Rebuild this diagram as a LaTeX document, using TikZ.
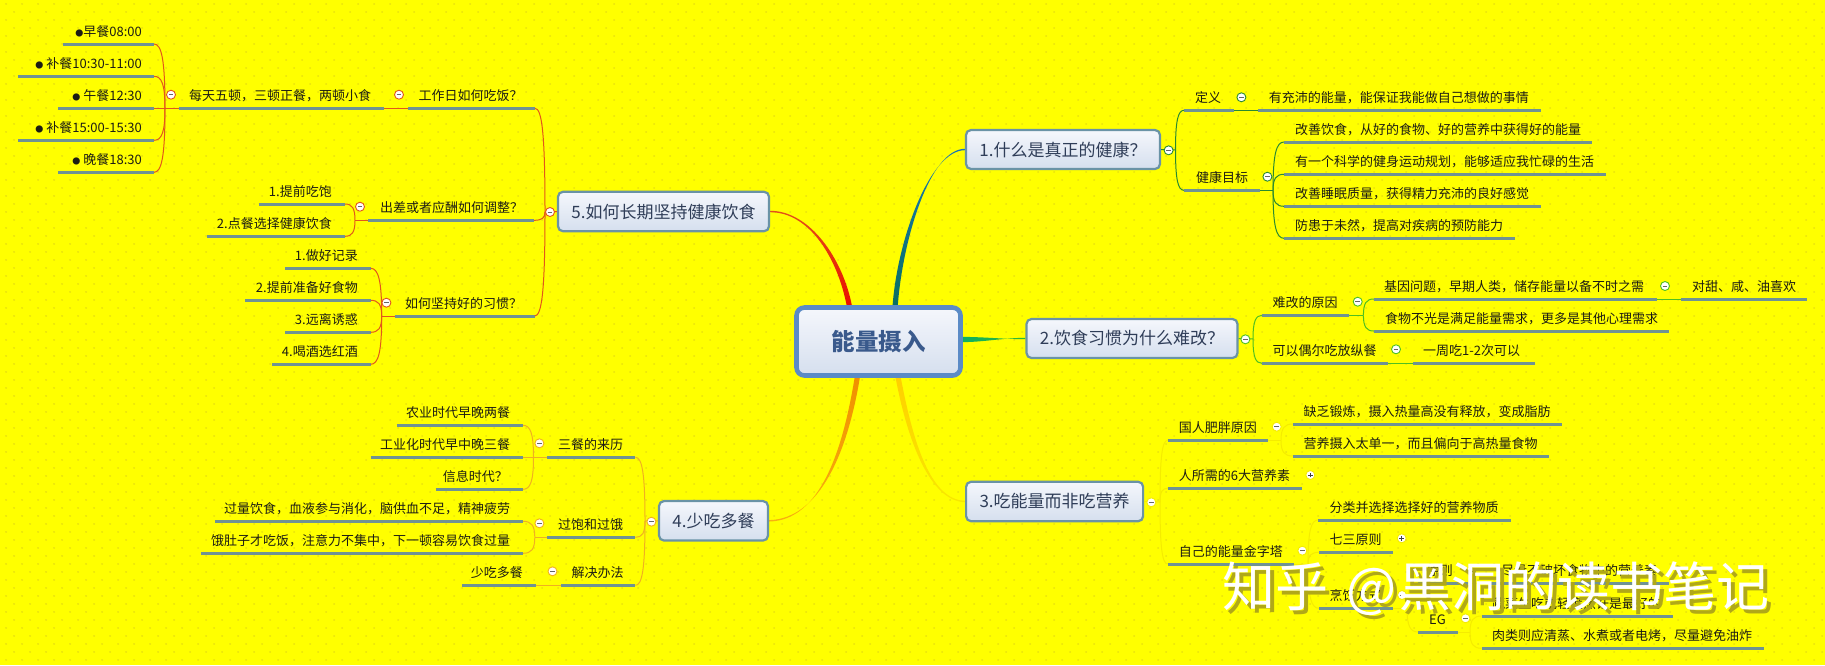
\documentclass[tikz,border=0pt]{standalone}
\usepackage{fontspec}
\setmainfont{Noto Sans CJK SC}
\usetikzlibrary{calc,backgrounds}
\definecolor{bgy}{HTML}{FFFF00}
\definecolor{doty}{HTML}{E9E20E}
\definecolor{ulinec}{HTML}{6F9393}
\definecolor{leafc}{HTML}{1C1C14}
\definecolor{boxc}{HTML}{6A93A6}
\definecolor{boxtext}{HTML}{2F3D58}
\definecolor{boxtop}{HTML}{F5F7FC}
\definecolor{boxbot}{HTML}{D5DFEE}
\definecolor{rootb}{HTML}{5B8BC6}
\definecolor{roottext}{HTML}{3A5A8C}
\definecolor{gfive}{HTML}{E2571A}
\definecolor{gfour}{HTML}{F0B020}
\definecolor{gone}{HTML}{2A8A30}
\definecolor{gtwo}{HTML}{4FC020}
\definecolor{gthree}{HTML}{F5EC00}
\definecolor{tfivea}{HTML}{E2501A}
\definecolor{tfiveb}{HTML}{EA1000}
\definecolor{tonea}{HTML}{1A75B5}
\definecolor{toneb}{HTML}{0A7060}
\definecolor{ttwoa}{HTML}{10B060}
\definecolor{ttwob}{HTML}{30B830}
\definecolor{tthreea}{HTML}{FFD000}
\definecolor{tthreeb}{HTML}{F8E800}
\definecolor{tfoura}{HTML}{F09000}
\definecolor{tfourb}{HTML}{F8B010}
\definecolor{wmshade}{HTML}{B0A818}
\tikzset{
  x=1pt,y=-1pt,
  lbl/.style={inner sep=0pt,font=\fontsize{13}{15}\selectfont,text=leafc},
  uline/.style={line width=3pt,draw=ulinec},
  conn/.style={line width=1pt,draw=#1},
  collm/.style={circle,draw=#1,line width=.9pt,fill=white,minimum size=9pt,inner sep=0pt,
    path picture={\draw[line width=.9pt,black!60] ([xshift=-2.3pt]path picture bounding box.center)--([xshift=2.3pt]path picture bounding box.center);}},
  collp/.style={circle,draw=#1,line width=.9pt,fill=white,minimum size=9pt,inner sep=0pt,
    path picture={\draw[line width=.9pt,black!75] ([xshift=-2.3pt]path picture bounding box.center)--([xshift=2.3pt]path picture bounding box.center);
    \draw[line width=.9pt,black!75] ([yshift=-2.3pt]path picture bounding box.center)--([yshift=2.3pt]path picture bounding box.center);}},
  boxnode/.style={draw=boxc,line width=2.2pt,rounded corners=5pt,top color=boxtop,bottom color=boxbot,
    inner sep=0pt,text=boxtext,font=\fontsize{17}{20}\selectfont},
  rootnode/.style={draw=rootb,line width=4.6pt,rounded corners=8pt,top color=boxtop,bottom color=boxbot,
    inner sep=0pt,text=roottext,font=\fontsize{23.5}{28}\selectfont\bfseries},
  wmark/.style={inner sep=0pt,anchor=base west,font=\fontsize{53}{60}\selectfont},
}
\newcommand{\smbul}{{\fontsize{8}{8}\selectfont ●}}
\newcommand{\wmstr}{知乎\hspace{18pt}@\hspace{2pt}黑洞的读书笔记}
\newcommand{\mmtopic}[7]{%
  \coordinate (#1-l) at (#2,#4);
  \coordinate (#1-r) at (#3,#4);
  \node[lbl,anchor=base #5,yshift=8pt] (#1) at (#6,#4) {#7};
  \draw[uline] (#1-l) -- (#1-r);
}
\newcommand{\bracketline}[3]{%
  \draw[conn=#1] (#2) .. controls ($(#2)!.75!(#2 |- #3)$) and ($(#3)!.7!(#2 |- #3)$) .. (#3);
}
\newcommand{\taperline}[6]{%
  \shade[#1] ($(#2)+(#4)$) .. controls +(#5) and +(#6) .. ($(#3)+(0,-.7)$) -- ($(#3)+(0,.7)$) .. controls +(#6) and +(#5) .. ($(#2)-(#4)$) -- cycle;
}
\begin{document}
\begin{tikzpicture}
\useasboundingbox (0,0) rectangle (1825,665);
% central and main boxes
\node[rootnode,minimum width=164pt,minimum height=68pt] (root) at (878.5,341.5) {能量摄入};
\node[boxnode,minimum width=211pt,minimum height=39.5pt] (b5) at (663.5,211.5) {5.如何长期坚持健康饮食};
\node[boxnode,minimum width=109pt,minimum height=39.5pt] (b4) at (713.5,520.8) {4.少吃多餐};
\node[boxnode,minimum width=194pt,minimum height=39pt] (b1) at (1063,149.5) {1.什么是真正的健康？};
\node[boxnode,minimum width=211pt,minimum height=39pt] (b2) at (1132,338.5) {2.饮食习惯为什么难改？};
\node[boxnode,minimum width=177pt,minimum height=39.5pt] (b3) at (1054.6,501.5) {3.吃能量而非吃营养};
% branch 5
\mmtopic{ta}{62.5}{154}{44}{east}{142}{\smbul 早餐08:00}
\mmtopic{tb}{18}{154}{76.3}{east}{142}{\smbul\ 补餐10:30-11:00}
\mmtopic{tc}{58}{154}{108.3}{east}{142}{\smbul\ 午餐12:30}
\mmtopic{td}{18}{154}{140.3}{east}{142}{\smbul\ 补餐15:00-15:30}
\mmtopic{te}{58}{154}{172.3}{east}{142}{\smbul\ 晚餐18:30}
\mmtopic{tf}{178.5}{384}{108.3}{west}{189}{每天五顿，三顿正餐，两顿小食}
\mmtopic{tg}{408}{535}{108.3}{west}{418.5}{工作日如何吃饭？}
\mmtopic{th}{258.7}{345}{204}{east}{332}{1.提前吃饱}
\mmtopic{ti}{207}{345}{236.3}{east}{332}{2.点餐选择健康饮食}
\mmtopic{tj}{368}{534}{220.3}{west}{380}{出差或者应酬如何调整？}
\mmtopic{tk}{285}{370.6}{268.3}{east}{358}{1.做好记录}
\mmtopic{tl}{245}{370.6}{300.3}{east}{358}{2.提前准备好食物}
\mmtopic{tm}{285}{370.6}{332.3}{east}{358}{3.远离诱惑}
\mmtopic{tn}{272}{370.6}{364.3}{east}{358}{4.喝酒选红酒}
\mmtopic{to}{394.7}{534.7}{316}{west}{405}{如何坚持好的习惯？}
\coordinate (gfa) at (165,108.3);
\coordinate (gfb) at (355,220.3);
\coordinate (gfc) at (381.7,316);
\coordinate (gfd) at (545,212);
\draw[conn=gfive] (tf-l) -- (tc-r);
\foreach \c in {ta,tb,td,te}{\bracketline{gfive}{gfa}{\c-r}}
\draw[conn=gfive] (tf-r) -- (tg-l);
\draw[conn=gfive] (tj-l) -- (gfb);
\foreach \c in {th,ti}{\bracketline{gfive}{gfb}{\c-r}}
\draw[conn=gfive] (to-l) -- (gfc);
\foreach \c in {tk,tl,tm,tn}{\bracketline{gfive}{gfc}{\c-r}}
\draw[conn=gfive] (b5.west) -- (gfd);
\foreach \c in {tg,tj,to}{\bracketline{gfive}{gfd}{\c-r}}
\node[collm=gfive] (ka) at (171,94.7) {};
\node[collm=gfive] (kb) at (399,94.7) {};
\node[collm=gfive] (kc) at (360,206.7) {};
\node[collm=gfive] (kd) at (386.4,302.7) {};
\node[collm=gfive] (ke) at (550,212) {};
% branch 4
\mmtopic{ua}{396.8}{523}{425.3}{east}{510.4}{农业时代早晚两餐}
\mmtopic{ub}{370.7}{523}{457.3}{east}{510.4}{工业化时代早中晚三餐}
\mmtopic{uc}{435.5}{523}{489.3}{east}{508}{信息时代？}
\mmtopic{ud}{547.4}{635.4}{457.3}{west}{558}{三餐的来历}
\mmtopic{ue}{215}{523}{521.3}{east}{510.4}{过量饮食，血液参与消化，脑供血不足，精神疲劳}
\mmtopic{uf}{201}{523}{553.3}{east}{510.4}{饿肚子才吃饭，注意力不集中，下一顿容易饮食过量}
\mmtopic{ug}{547.4}{635.4}{537.3}{west}{558}{过饱和过饿}
\mmtopic{uh}{462}{535.6}{585.3}{east}{523}{少吃多餐}
\mmtopic{ui}{561}{635.4}{585.3}{west}{571.4}{解决办法}
\coordinate (goa) at (533.5,457.3);
\coordinate (gob) at (534.8,537.3);
\coordinate (goc) at (645,521);
\draw[conn=gfour] (ud-l) -- (ub-r);
\foreach \c in {ua,uc}{\bracketline{gfour}{goa}{\c-r}}
\draw[conn=gfour] (ug-l) -- (gob);
\foreach \c in {ue,uf}{\bracketline{gfour}{gob}{\c-r}}
\draw[conn=gfour] (ui-l) -- (uh-r);
\draw[conn=gfour] (b4.west) -- (goc);
\foreach \c in {ud,ug,ui}{\bracketline{gfour}{goc}{\c-r}}
\node[collm=gfour] (la) at (539.4,443.3) {};
\node[collm=gfour] (lb) at (539.4,523.3) {};
\node[collm=gfour] (lc) at (552.5,571.3) {};
\node[collm=gfour] (ld) at (651.4,521.7) {};
% branch 1
\mmtopic{va}{1184}{1234}{110.3}{west}{1195}{定义}
\mmtopic{vb}{1258}{1540.6}{110.3}{west}{1268.7}{有充沛的能量，能保证我能做自己想做的事情}
\mmtopic{vc}{1184}{1260}{190.3}{west}{1196}{健康目标}
\mmtopic{vd}{1284}{1592}{142}{west}{1294.8}{改善饮食，从好的食物、好的营养中获得好的能量}
\mmtopic{ve}{1284}{1605.7}{174.3}{west}{1294.8}{有一个科学的健身运动规划，能够适应我忙碌的生活}
\mmtopic{vf}{1284}{1540.6}{206.3}{west}{1294.8}{改善睡眠质量，获得精力充沛的良好感觉}
\mmtopic{vg}{1284}{1514.6}{238.3}{west}{1294.8}{防患于未然，提高对疾病的预防能力}
\coordinate (gna) at (1175.5,150);
\coordinate (gnb) at (1273,190.3);
\draw[conn=gone] (b1.east) -- (gna);
\foreach \c in {va,vc}{\bracketline{gone}{gna}{\c-l}}
\draw[conn=gone] (va-r) -- (vb-l);
\draw[conn=gone] (vc-r) -- (gnb);
\foreach \c in {vd,ve,vf,vg}{\bracketline{gone}{gnb}{\c-l}}
\node[collm=gone] (ma) at (1168.6,150.3) {};
\node[collm=gone] (mb) at (1241.4,97.3) {};
\node[collm=gone] (mc) at (1267.4,176.7) {};
% branch 2
\mmtopic{wa}{1262}{1349}{315.3}{west}{1272.5}{难改的原因}
\mmtopic{wb}{1373.8}{1656.6}{299}{west}{1384}{基因问题，早期人类，储存能量以备不时之需}
\mmtopic{wc}{1680.5}{1806.8}{299}{west}{1692}{对甜、咸、油喜欢}
\mmtopic{wd}{1373.8}{1669}{331}{west}{1385}{食物不光是满足能量需求，更多是其他心理需求}
\mmtopic{we}{1262}{1388}{363.3}{west}{1272.5}{可以偶尔吃放纵餐}
\mmtopic{wf}{1412.8}{1535}{363.3}{west}{1423}{一周吃1-2次可以}
\coordinate (gwa) at (1253,339);
\coordinate (gwb) at (1363.4,315.3);
\draw[conn=gtwo] (b2.east) -- (gwa);
\foreach \c in {wa,we}{\bracketline{gtwo}{gwa}{\c-l}}
\draw[conn=gtwo] (wa-r) -- (gwb);
\foreach \c in {wb,wd}{\bracketline{gtwo}{gwb}{\c-l}}
\draw[conn=gtwo] (wb-r) -- (wc-l);
\draw[conn=gtwo] (we-r) -- (wf-l);
\node[collm=gtwo] (na) at (1245.4,339.3) {};
\node[collm=gtwo] (nb) at (1357.7,301.7) {};
\node[collm=gtwo] (nc) at (1665,286) {};
\node[collm=gtwo] (nd) at (1396,349.3) {};
% branch 3
\mmtopic{xa}{1167.7}{1268.3}{440.3}{west}{1178.7}{国人肥胖原因}
\mmtopic{xb}{1292.7}{1562}{424}{west}{1303.3}{缺乏锻炼，摄入热量高没有释放，变成脂肪}
\mmtopic{xc}{1292.7}{1549}{456}{west}{1303.3}{营养摄入太单一，而且偏向于高热量食物}
\mmtopic{xd}{1167.7}{1302.3}{488.3}{west}{1178.7}{人所需的6大营养素}
\mmtopic{xe}{1167.7}{1294.3}{564}{west}{1178.7}{自己的能量金字塔}
\mmtopic{xf}{1318}{1511}{520}{west}{1329.3}{分类并选择选择好的营养物质}
\mmtopic{xg}{1319}{1393.3}{552.3}{west}{1329.3}{七三原则}
\mmtopic{xh}{1319}{1393}{608.3}{west}{1329.5}{烹饪方式}
\mmtopic{xi}{1418}{1468}{583.3}{east}{1453}{原则}
\mmtopic{xj}{1490}{1669}{583.3}{west}{1501}{尽量不破坏食物中的营养素}
\mmtopic{xk}{1418}{1458}{632}{west}{1429}{EG}
\mmtopic{xl}{1481.5}{1673}{616}{west}{1492}{蔬菜生吃或轻度烹饪是最好的}
\mmtopic{xm}{1481.5}{1764}{648.3}{west}{1492}{肉类则应清蒸、水煮或者电烤，尽量避免油炸}
\coordinate (gxa) at (1160,502);
\coordinate (gxb) at (1281,440.3);
\coordinate (gxc) at (1308,564);
\coordinate (gxd) at (1407,608.3);
\coordinate (gxe) at (1470,632);
\draw[conn=gthree] (b3.east) -- (gxa);
\foreach \c in {xa,xd,xe}{\bracketline{gthree}{gxa}{\c-l}}
\draw[conn=gthree] (xa-r) -- (gxb);
\foreach \c in {xb,xc}{\bracketline{gthree}{gxb}{\c-l}}
\draw[conn=gthree] (xe-r) -- (gxc);
\foreach \c in {xf,xg,xh}{\bracketline{gthree}{gxc}{\c-l}}
\draw[conn=gthree] (xh-r) -- (gxd);
\foreach \c in {xi,xk}{\bracketline{gthree}{gxd}{\c-l}}
\draw[conn=gthree] (xi-r) -- (xj-l);
\draw[conn=gthree] (xk-r) -- (gxe);
\foreach \c in {xl,xm}{\bracketline{gthree}{gxe}{\c-l}}
\node[collm=gthree] (oa) at (1151.3,502.3) {};
\node[collm=gthree] (ob) at (1276.7,426.7) {};
\node[collp=gthree] (oc) at (1310.3,475) {};
\node[collm=gthree] (od) at (1302.3,550.7) {};
\node[collp=gthree] (oe) at (1401.7,538.3) {};
\node[collm=gthree] (of) at (1402,595) {};
\node[collm=gthree] (og) at (1470.7,571) {};
\node[collm=gthree] (oh) at (1465.5,618.3) {};
% thick branches from the centre
\coordinate (rfive) at ($(root.north west)+(55,0)$);
\coordinate (rone) at ($(root.north west)+(101,0)$);
\coordinate (rtwo) at ($(root.east)+(0,-2)$);
\coordinate (rthree) at ($(root.south west)+(104,0)$);
\coordinate (rfour) at ($(root.south west)+(63,0)$);
\begin{pgfonlayer}{background}
  \fill[bgy] (0,0) rectangle (1825,665);
  \foreach \r in {0,...,83}{
    \pgfmathsetmacro{\yy}{\r*8+4}
    \pgfmathsetmacro{\xx}{mod(\r,2)*8+6}
    \draw[doty,line width=2pt,line cap=round,dash pattern=on 0.01pt off 15.99pt] (\xx,\yy) -- (1825,\yy);
  }
  \taperline{top color=tfivea,bottom color=tfiveb}{rfive}{b5.east}{2.6,0}{-9,-46}{40,0}
  \taperline{top color=tonea,bottom color=toneb}{rone}{b1.west}{2.6,0}{5,-66}{-35,0}
  \taperline{left color=ttwoa,right color=ttwob}{rtwo}{b2.west}{0,2.6}{20,0}{-20,0}
  \taperline{top color=tthreea,bottom color=tthreeb}{rthree}{b3.west}{2.6,0}{12,63}{-35,-1}
  \taperline{top color=tfoura,bottom color=tfourb}{rfour}{b4.east}{2.6,0}{-12,73}{51,-1}
\end{pgfonlayer}
% watermark
\node[wmark,text=wmshade] (wmshadow) at (1226,610) {\wmstr};
\node[wmark,text=white] (wmtext) at (1222.5,606.5) {\wmstr};
\end{tikzpicture}
\end{document}
